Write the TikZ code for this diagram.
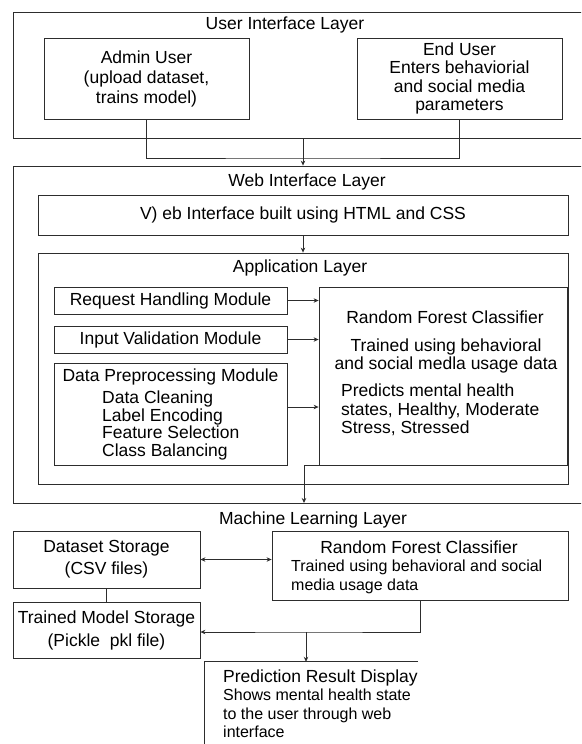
\documentclass[tikz,border=0pt]{standalone}
\usepackage{fontspec}
\setmainfont{Liberation Sans}
\usetikzlibrary{arrows.meta, calc, positioning}
\definecolor{lineCol}{RGB}{45,45,45}
\newcommand{\mainSize}{\fontsize{17.5}{20}\selectfont}
\newcommand{\descSize}{\fontsize{16}{18.5}\selectfont}
\tikzset{
    layerBox/.style={draw=lineCol, line width=0.8pt, inner sep=0pt},
    modBox/.style={draw=lineCol, line width=0.8pt, inner sep=0pt, align=center, font=\mainSize},
    txtMain/.style={inner sep=0pt, align=center, font=\mainSize},
    txtDesc/.style={inner sep=0pt, align=left, font=\descSize},
    arrEdge/.style={-{Stealth[length=5pt, width=4.5pt]}, draw=lineCol, line width=0.8pt},
    bothEdge/.style={{Stealth[length=5pt, width=4.5pt]}-{Stealth[length=5pt, width=4.5pt]}, draw=lineCol, line width=0.8pt},
    plainEdge/.style={draw=lineCol, line width=0.8pt},
}
\newcommand{\flowLink}[3][arrEdge]{
    \draw[#1] (#2) -- (#3);
}

\begin{document}
\begin{tikzpicture}[x=1pt, y=-1pt]
    \useasboundingbox (0,0) rectangle (581,744);
    \clip (0,0) rectangle (581,744);

    % user interface layer
    \node[layerBox, minimum width=587pt, minimum height=126pt] (uiLayer) at (306.5,75) {};
    \node[txtMain] (uiTitle) at (285,25) {User Interface Layer};
    \node[modBox, minimum width=205pt, minimum height=81pt] (admin) at (146.5,78.5) {Admin User\\(upload dataset,\\trains model)};
    \node[modBox, minimum width=205pt, minimum height=81pt, font={\fontsize{17.5}{18.5}\selectfont}] (endUser) at (459.5,78.5) {End User\\Enters behaviorial\\and social media\\parameters};

    % web interface layer
    \node[layerBox, minimum width=587pt, minimum height=337pt] (webLayer) at (306.5,334.5) {};
    \node[txtMain] (webTitle) at (307,182) {Web Interface Layer};
    \node[modBox, minimum width=530pt, minimum height=40pt] (webUI) at (303,215) {V) eb Interface built using HTML and CSS};

    % application layer
    \node[layerBox, minimum width=530pt, minimum height=231pt] (appLayer) at (303,368.5) {};
    \node[txtMain] (appTitle) at (300,268) {Application Layer};
    \node[modBox, minimum width=233pt, minimum height=27pt] (reqMod) at (170.5,300.5) {Request Handling Module};
    \node[modBox, minimum width=233pt, minimum height=27pt] (valMod) at (170.5,339.5) {Input Validation Module};
    \node[modBox, minimum width=233pt, minimum height=102pt] (prepMod) at (170.5,414) {};
    \node[txtMain] (prepTitle) at (170.5,377) {Data Preprocessing Module};
    \node[txtMain, align=left, anchor=west, font={\fontsize{17.5}{17.7}\selectfont}] (prepList) at (102,425.5) {Data Cleaning\\Label Encoding\\Feature Selection\\Class Balancing};
    \node[modBox, minimum width=248pt, minimum height=178pt] (rfApp) at (443,376) {};
    \node[txtMain] (rfAppTitle) at (445,317) {Random Forest Classifier};
    \node[txtMain, font={\fontsize{17.5}{18.5}\selectfont}] (rfAppTrain) at (446,356) {Trained using behavioral\\and social medla usage data};
    \node[txtMain, align=left, anchor=west, font={\fontsize{17.5}{18.5}\selectfont}] (rfAppPred) at (341,410) {Predicts mental health\\states, Healthy, Moderate\\Stress, Stressed};

    % machine learning layer
    \node[txtMain] (mlTitle) at (313,520) {Machine Learning Layer};
    \node[modBox, minimum width=187pt, minimum height=57pt, font={\fontsize{17.5}{22}\selectfont}] (dataStore) at (106.5,559.5) {Dataset Storage\\(CSV files)};
    \node[modBox, minimum width=187pt, minimum height=56pt, font={\fontsize{17.5}{23}\selectfont}] (modelStore) at (106.5,630) {Trained Model Storage\\(Pickle\ \ pkl file)};
    \node[modBox, minimum width=296pt, minimum height=69pt] (rfML) at (420,565.5) {};
    \node[txtMain] (rfMLTitle) at (419,547) {Random Forest Classifier};
    \node[txtDesc, anchor=west] (rfMLText) at (291,577) {Trained using behavioral and social\\media usage data};

    % prediction output
    \node[minimum width=213pt, minimum height=100pt, inner sep=0pt] (predBox) at (311.5,712) {};
    \draw[plainEdge] (predBox.north east) -- (predBox.north west) -- (predBox.south west);
    \node[txtMain, anchor=west] (predTitle) at (223,678) {Prediction Result Display};
    \node[txtDesc, anchor=north west] (predText) at (223,689) {Shows mental health state\\to the user through web\\interface};

    % connectors
    \coordinate (joinUI) at (303,158);
    \coordinate (mlIn) at (304,503);
    \coordinate (predDrop) at (306,632);
    \draw[plainEdge] (admin.south) |- (joinUI) -| (endUser.south);
    \flowLink{uiLayer.south -| joinUI}{webLayer.north -| joinUI}
    \flowLink{webUI.south}{appLayer.north}
    \flowLink{reqMod.east}{rfApp.west |- reqMod.east}
    \flowLink{valMod.east}{rfApp.west |- valMod.east}
    \flowLink{$(prepMod.east)+(0,-7)$}{rfApp.west |- {$(prepMod.east)+(0,-7)$}}
    \draw[arrEdge] (rfApp.south west) -| (mlIn);
    \flowLink[bothEdge]{dataStore.east}{dataStore.east -| rfML.west}
    \flowLink[plainEdge]{dataStore.south}{modelStore.north}
    \draw[arrEdge] (rfML.south) |- (predDrop) -- (predDrop -| modelStore.east);
    \flowLink{predDrop}{predDrop |- predBox.north}

\end{tikzpicture}
\end{document}
